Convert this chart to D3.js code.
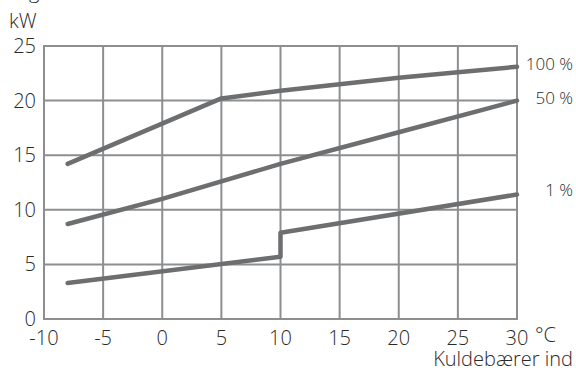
<!DOCTYPE html>
<html><head><meta charset="utf-8">
<script src="https://cdn.jsdelivr.net/npm/d3@7"></script>
<style>body{margin:0;background:#fff}svg{display:block}text{font-family:"Open Sans",sans-serif;font-weight:300;fill:#2a2a2a}</style>
</head><body><svg id="c" width="576" height="372"></svg>
<script>
const xTicks = [-10,-5,0,5,10,15,20,25,30];
const yTicks = [0,5,10,15,20,25];
const seriesNames = ["100 %","50 %","1 %"];
const s100 = [[-8,14.2],[5,20.2],[10,20.9],[15,21.5],[20,22.1],[25,22.6],[30,23.1]];
const s50  = [[-8,8.7],[0,11.0],[10,14.2],[20,17.1],[30,20.0]];
const s1   = [[-8,3.3],[10,5.7],[10,7.9],[30,11.4]];

const svg = d3.select("#c");
const x = d3.scaleLinear().domain([-10,30]).range([44,517]);
const y = d3.scaleLinear().domain([0,25]).range([319,46]);
const grid = "#8c8e90";

// grid
svg.append("g").selectAll("line").data(xTicks).join("line")
  .attr("x1",d=>x(d)).attr("x2",d=>x(d)).attr("y1",y(0)+1).attr("y2",y(25)-1)
  .attr("stroke",grid).attr("stroke-width",2);
svg.append("g").selectAll("line").data(yTicks).join("line")
  .attr("x1",x(-10)-1).attr("x2",x(30)+1).attr("y1",d=>y(d)).attr("y2",d=>y(d))
  .attr("stroke",grid).attr("stroke-width",2);

// tick labels
svg.append("g").selectAll("text").data(xTicks).join("text")
  .attr("x",d=>x(d)).attr("y",345).attr("text-anchor","middle")
  .attr("font-size",20).text(d=>d);
svg.append("g").selectAll("text").data(yTicks).join("text")
  .attr("x",36).attr("y",d=>y(d)+7).attr("text-anchor","end")
  .attr("font-size",20).text(d=>d);

// lines
const line = d3.line().x(d=>x(d[0])).y(d=>y(d[1]));
svg.append("g").selectAll("path").data([s100,s50,s1]).join("path")
  .attr("d",line).attr("fill","none").attr("stroke","#6d6e70")
  .attr("stroke-width",4.5).attr("stroke-linecap","round").attr("stroke-linejoin","round");

// series labels
const labelBase = [70,104,196];
svg.append("g").selectAll("text").data(seriesNames).join("text")
  .attr("x",573).attr("y",(d,i)=>labelBase[i])
  .attr("text-anchor","end").attr("font-size",17).text(d=>d);

// axis titles
svg.append("text").attr("x",11).attr("y",-2).attr("font-size",20).text("Afgiven effekt");
svg.append("text").attr("x",9).attr("y",28).attr("font-size",20).text("kW");
svg.append("text").attr("x",535).attr("y",342).attr("font-size",20).text("°C");
svg.append("text").attr("x",573).attr("y",366).attr("text-anchor","end").attr("font-size",20).text("Kuldebærer ind");
</script></body></html>
